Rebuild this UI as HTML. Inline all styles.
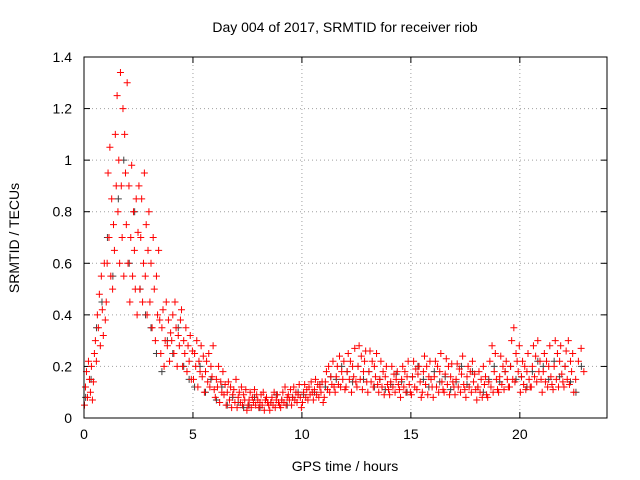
<!DOCTYPE html>
<html><head><meta charset="utf-8"><style>
body{margin:0;background:#fff}
svg{display:block;font-family:"Liberation Sans",sans-serif}
</style></head><body>
<svg id="chart" width="640" height="480" viewBox="0 0 640 480">
<text x="345" y="32" font-size="14" text-anchor="middle">Day 004 of 2017, SRMTID for receiver riob</text>
<text x="345" y="471" font-size="14" text-anchor="middle">GPS time / hours</text>
<text x="19" y="238" font-size="14" text-anchor="middle" transform="rotate(-90 19 238)">SRMTID / TECUs</text>
<g id="grid"></g>
<g id="grey"></g>
<g id="red"></g>
<rect x="84" y="57" width="523" height="361" fill="none" stroke="#000" stroke-width="1"/>
</svg>
<script>
const xTicks=[0,5,10,15,20];
const yTicks=[0,0.2,0.4,0.6,0.8,1,1.2,1.4];
const yTickLabels=["0","0.2","0.4","0.6","0.8","1","1.2","1.4"];
const binWidth=0.5;
// values per half-hour bin starting at 0
const redBins=[
[0.05,0.12,0.18,0.08,0.22,0.15,0.1,0.2,0.07,0.14,0.25],
[0.3,0.22,0.4,0.35,0.48,0.28,0.55,0.42,0.32,0.6,0.38],
[0.45,0.6,0.95,0.7,1.05,0.55,0.85,0.5,0.75,0.65,1.1,0.9],
[1.25,0.8,1.0,0.6,1.34,0.9,0.7,1.2,0.55,1.1,0.95,0.75,1.3],
[0.6,0.9,0.45,0.7,0.98,0.55,0.8,0.65,0.5,0.85,0.4,0.72],
[0.9,0.5,0.7,0.85,0.45,0.6,0.95,0.55,0.75,0.4,0.65,0.8],
[0.45,0.6,0.35,0.7,0.5,0.3,0.55,0.4,0.65,0.38],
[0.25,0.35,0.42,0.2,0.3,0.45,0.28,0.38,0.22,0.33],
[0.3,0.4,0.25,0.45,0.35,0.2,0.32,0.28,0.38,0.42],
[0.2,0.3,0.25,0.35,0.18,0.28,0.22,0.32,0.15,0.26],
[0.15,0.25,0.2,0.3,0.12,0.22,0.18,0.28,0.16,0.24],
[0.1,0.18,0.22,0.14,0.25,0.12,0.2,0.16,0.28,0.11],
[0.08,0.15,0.12,0.2,0.06,0.14,0.1,0.18,0.09,0.13],
[0.05,0.1,0.14,0.07,0.12,0.04,0.09,0.11,0.06,0.15],
[0.04,0.08,0.1,0.06,0.12,0.05,0.09,0.07,0.11,0.03],
[0.05,0.07,0.1,0.04,0.08,0.06,0.11,0.05,0.09,0.07],
[0.04,0.06,0.09,0.05,0.1,0.03,0.07,0.08,0.06,0.05],
[0.03,0.06,0.08,0.05,0.1,0.04,0.07,0.09,0.06,0.05],
[0.04,0.07,0.1,0.06,0.12,0.05,0.08,0.09,0.07,0.11],
[0.05,0.08,0.12,0.07,0.1,0.06,0.09,0.13,0.08,0.04],
[0.06,0.1,0.13,0.08,0.11,0.07,0.12,0.09,0.14,0.1],
[0.07,0.11,0.15,0.09,0.13,0.08,0.12,0.1,0.14,0.06],
[0.08,0.14,0.18,0.11,0.2,0.1,0.16,0.13,0.22,0.12],
[0.1,0.16,0.2,0.13,0.24,0.12,0.18,0.15,0.22,0.11],
[0.12,0.18,0.25,0.15,0.22,0.1,0.2,0.16,0.27,0.14],
[0.12,0.2,0.28,0.15,0.24,0.11,0.18,0.22,0.26,0.14],
[0.1,0.18,0.26,0.14,0.22,0.12,0.2,0.16,0.25,0.13],
[0.1,0.15,0.22,0.12,0.18,0.09,0.16,0.2,0.13,0.11],
[0.09,0.14,0.2,0.12,0.17,0.1,0.15,0.18,0.13,0.11],
[0.08,0.15,0.2,0.12,0.18,0.1,0.16,0.22,0.13,0.1],
[0.09,0.16,0.22,0.12,0.19,0.11,0.17,0.2,0.14,0.08],
[0.1,0.18,0.24,0.13,0.2,0.09,0.16,0.22,0.15,0.12],
[0.08,0.16,0.22,0.12,0.2,0.1,0.18,0.25,0.14,0.11],
[0.1,0.17,0.23,0.13,0.2,0.09,0.16,0.21,0.14,0.12],
[0.09,0.15,0.21,0.12,0.19,0.1,0.17,0.24,0.13,0.11],
[0.08,0.16,0.2,0.12,0.18,0.1,0.22,0.14,0.17,0.11],
[0.07,0.12,0.18,0.1,0.15,0.08,0.2,0.13,0.16,0.09],
[0.08,0.14,0.22,0.12,0.28,0.1,0.18,0.25,0.15,0.11],
[0.1,0.16,0.24,0.13,0.2,0.11,0.18,0.22,0.15,0.12],
[0.12,0.2,0.3,0.15,0.35,0.14,0.25,0.22,0.18,0.28],
[0.1,0.16,0.22,0.13,0.2,0.11,0.18,0.25,0.15,0.12],
[0.12,0.2,0.28,0.16,0.24,0.14,0.3,0.18,0.22,0.15],
[0.1,0.18,0.25,0.14,0.22,0.12,0.2,0.28,0.16,0.13],
[0.11,0.2,0.3,0.15,0.25,0.12,0.22,0.28,0.17,0.14],
[0.12,0.2,0.26,0.15,0.3,0.13,0.22,0.18,0.25,0.1],
[0.15,0.22,0.27,0.18]
];
const greyBins=[
[0.08,0.15],[0.35,0.45],[0.7,0.55],[0.85,1.0],[0.6,0.8],[0.5,0.4],[0.35,0.25],[0.18,0.3],[0.25,0.35],[0.2,0.15],
[0.12,0.2],[0.1,0.15],[0.07,0.12],[0.05,0.08],[0.06,0.04],[0.05,0.08],[0.04,0.07],[0.06,0.09],[0.07,0.05],[0.08,0.1],
[0.09,0.12],[0.1,0.13],[0.12,0.16],[0.15,0.2],[0.18,0.14],[0.2,0.15],[0.18,0.12],[0.15,0.11],[0.13,0.17],[0.14,0.1],
[0.16,0.2],[0.15,0.12],[0.18,0.14],[0.16,0.11],[0.14,0.2],[0.13,0.18],[0.12,0.1],[0.15,0.2],[0.14,0.18],[0.2,0.15],
[0.16,0.12],[0.18,0.22],[0.2,0.15],[0.22,0.16],[0.2,0.14],[0.1,0.2]
];
const X0=84,X1=607,Y0=418,Y1=57,XMAX=24,YMAX=1.4;
function sx(t){return X0+(X1-X0)*t/XMAX;}
function sy(v){return Y0-(Y0-Y1)*v/YMAX;}
const NS="http://www.w3.org/2000/svg";
const grid=document.getElementById('grid');
function mk(tag,attrs,parent){const e=document.createElementNS(NS,tag);for(const k in attrs)e.setAttribute(k,attrs[k]);parent.appendChild(e);return e;}
xTicks.forEach(function(t){
  const l=mk('line',{x1:sx(t),x2:sx(t),y1:Y0,y2:Y1,stroke:'#a0a0a0','stroke-dasharray':'1,3'},grid);
  
  
  mk('line',{x1:sx(t),x2:sx(t),y1:Y0,y2:Y0-6,stroke:'#000'},grid);
  mk('line',{x1:sx(t),x2:sx(t),y1:Y1,y2:Y1+6,stroke:'#000'},grid);
  const tx=mk('text',{x:sx(t),y:Y0+21,'font-size':14,'text-anchor':'middle'},grid);
  tx.textContent=String(t);
  
  
});
yTicks.forEach(function(v,i){
  const l=mk('line',{x1:X0,x2:X1,y1:sy(v),y2:sy(v),stroke:'#a0a0a0','stroke-dasharray':'1,3'},grid);
  
  
  mk('line',{x1:X0,x2:X0+6,y1:sy(v),y2:sy(v),stroke:'#000'},grid);
  mk('line',{x1:X1,x2:X1-6,y1:sy(v),y2:sy(v),stroke:'#000'},grid);
  const tx=mk('text',{x:X0-12,y:sy(v)+5,'font-size':14,'text-anchor':'end'},grid);
  tx.textContent=yTickLabels[i];
  
  
});
function plot(bins,gid,color,offset){
  const g=document.getElementById(gid);
  let d='';
  bins.forEach(function(vals,b){
    vals.forEach(function(v,j){
      const t=b*binWidth+binWidth*(j+offset)/vals.length;
      const x=sx(t),y=sy(v);
      d+='M'+(x-3.5)+' '+y+'h7M'+x+' '+(y-3.5)+'v7';
    });
  });
  const p=mk('path',{d:d,stroke:color,'stroke-width':1,fill:'none'},g);
  
  
}
plot(greyBins,'grey','#404040',0.3);
plot(redBins,'red','#ff0000',0.5);
</script>
</body></html>
